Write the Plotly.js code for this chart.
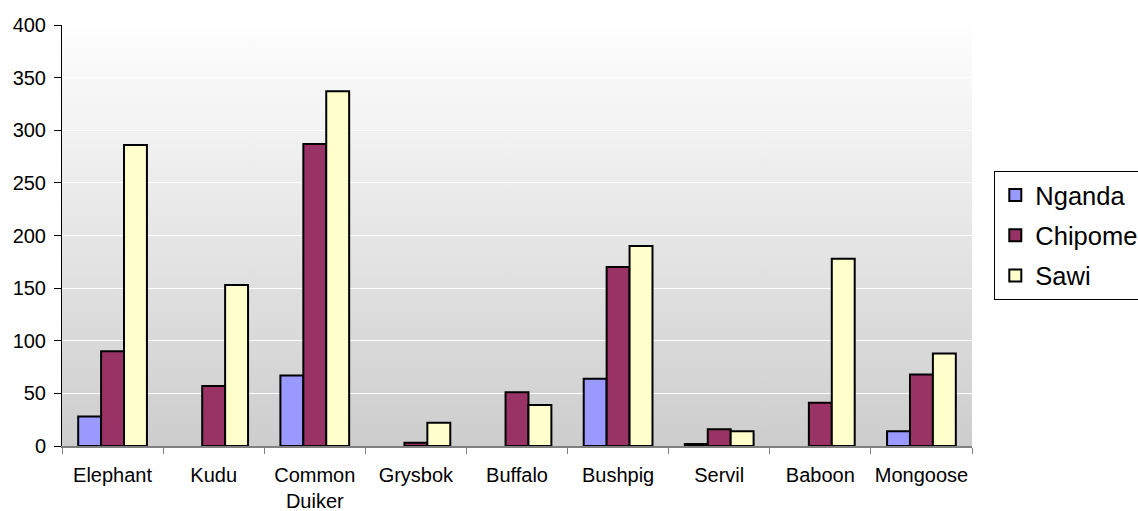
<!DOCTYPE html>
<html>
<head>
<meta charset="utf-8">
<script src="https://cdn.plot.ly/plotly-3.0.1.min.js"></script>
<style>
  html, body { margin: 0; padding: 0; background: #ffffff; }
  #chart { width: 1138px; height: 511px; }
</style>
</head>
<body>
<div id="chart"></div>
<script>
// Animal counts per site
const categories = ["Elephant", "Kudu", "Common Duiker", "Grysbok", "Buffalo", "Bushpig", "Servil", "Baboon", "Mongoose"];
const tickLabels = ["Elephant", "Kudu", "Common<br>Duiker", "Grysbok", "Buffalo", "Bushpig", "Servil", "Baboon", "Mongoose"];
const nganda  = [28, 0, 67, 0, 0, 64, 2, 0, 14];
const chipome = [90, 57, 287, 3, 51, 170, 16, 41, 68];
const sawi    = [286, 153, 337, 22, 39, 190, 14, 178, 88];

const seriesNames  = ["Nganda", "Chipome", "Sawi"];
const seriesColors = ["#9999ff", "#993366", "#ffffcc"];
const seriesValues = [nganda, chipome, sawi];

const FONT = "Liberation Sans, Arial, Helvetica, sans-serif";

const traces = seriesValues.map((vals, i) => ({
  type: "bar",
  name: seriesNames[i],
  legendgroup: seriesNames[i],
  x: categories,
  y: vals,
  marker: {
    color: seriesColors[i],
    // empty counts get no outline so nothing is drawn on the baseline
    line: { color: "#000000", width: vals.map(v => (v > 0 ? 2 : 0)) }
  },
  hoverinfo: "x+y+name"
}));

// Vertical grey gradient behind the plot area
const gradientSvg =
  '<svg xmlns="http://www.w3.org/2000/svg" width="100" height="100" preserveAspectRatio="none">' +
  '<defs><linearGradient id="g" x1="0" y1="0" x2="0" y2="1">' +
  '<stop offset="0" stop-color="#fefefe"/><stop offset="1" stop-color="#cdcdcd"/>' +
  '</linearGradient></defs><rect width="100" height="100" fill="url(#g)"/></svg>';
const gradientUri = "data:image/svg+xml;base64," + btoa(gradientSvg);

const layout = {
  width: 1138,
  height: 511,
  margin: { l: 62, r: 166, t: 25, b: 65, pad: 0, autoexpand: false },
  paper_bgcolor: "#ffffff",
  plot_bgcolor: "rgba(0,0,0,0)",
  font: { family: FONT, size: 20, color: "#000000" },
  bargap: 0.32,
  bargroupgap: 0,
  barmode: "group",
  showlegend: true,
  legend: {
    x: 1.0245, xanchor: "left",
    y: 0.5, yanchor: "middle",
    bgcolor: "#ffffff",
    bordercolor: "#000000",
    borderwidth: 1,
    font: { family: FONT, size: 25.5, color: "#000000" },
    tracegroupgap: 4,
    itemclick: false,
    itemdoubleclick: false
  },
  xaxis: {
    type: "category",
    tickvals: categories,
    ticktext: tickLabels,
    tickangle: 0,
    tickson: "boundaries",
    ticks: "outside",
    ticklen: 6,
    tickcolor: "#808080",
    tickwidth: 1,
    ticklabelstandoff: 10,
    showline: true,
    linecolor: "#808080",
    linewidth: 2,
    showgrid: false,
    zeroline: false,
    tickfont: { family: FONT, size: 20, color: "#000000" },
    fixedrange: true
  },
  yaxis: {
    range: [0, 400],
    dtick: 50,
    tick0: 0,
    ticks: "outside",
    ticklen: 7,
    tickcolor: "#000000",
    tickwidth: 1,
    ticklabelstandoff: 4,
    showline: true,
    linecolor: "#000000",
    linewidth: 1,
    showgrid: true,
    gridcolor: "#ffffff",
    gridwidth: 1,
    zeroline: false,
    tickfont: { family: FONT, size: 20, color: "#000000" },
    fixedrange: true
  },
  images: [{
    source: gradientUri,
    xref: "paper", yref: "paper",
    x: 0, y: 1, sizex: 1, sizey: 1,
    xanchor: "left", yanchor: "top",
    sizing: "stretch",
    layer: "below"
  }]
};

Plotly.newPlot("chart", traces, layout, { displayModeBar: false });
</script>
</body>
</html>
